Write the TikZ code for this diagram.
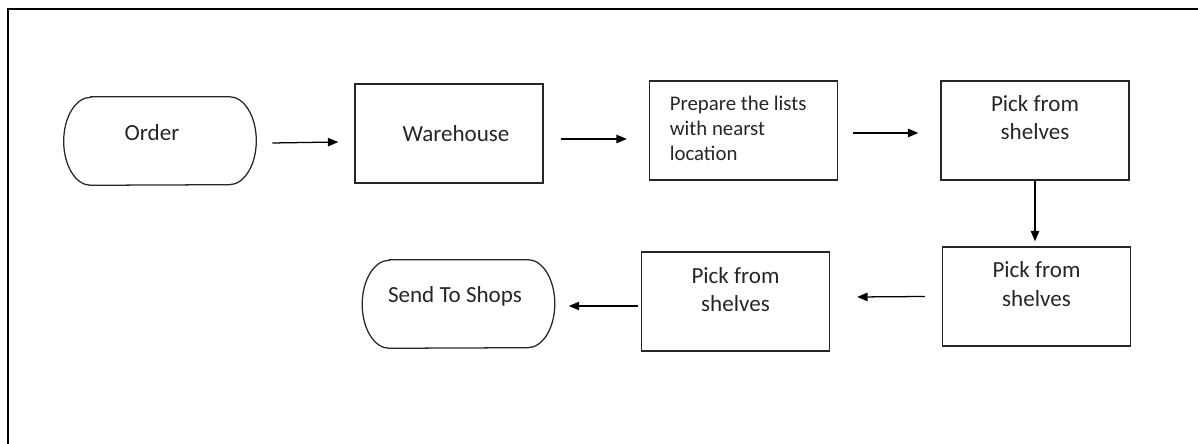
\documentclass[tikz,border=0pt]{standalone}
\usepackage{fontspec}
\setmainfont{Carlito}
\usetikzlibrary{arrows.meta,calc}

\begin{document}
\begin{tikzpicture}[
    x=0.025cm, y=0.025cm,
    >={Triangle[length=2.6mm,width=2.1mm]},
    stepbox/.style={draw=black!85, line width=0.9pt, minimum width=4.7cm, minimum height=2.475cm, inner sep=0pt},
    termbox/.style={minimum width=4.8cm, minimum height=2.2cm, inner sep=0pt},
    tag/.style={font=\fontsize{16.4}{20.3}\selectfont, text=black!85, align=center},
    smalltag/.style={font=\fontsize{14.8}{17.8}\selectfont, text=black!85, align=left},
    flow/.style={->, line width=0.9pt},
  ]

  % terminal shape: flat top and bottom, elliptic ends
  \def\termline#1{\draw[line width=0.9pt, draw=black!85]
    ($(#1.north west)+(27,0)$) -- ($(#1.north east)+(-27,0)$)
    arc[start angle=90, end angle=-90, x radius=27, y radius=44]
    -- ($(#1.south west)+(27,0)$)
    arc[start angle=270, end angle=90, x radius=27, y radius=44] -- cycle;}

  \useasboundingbox (0,0) rectangle (1198,444);

  % frame
  \draw[line width=1.4pt] (8,0) -- (8,435) -- (1198,435);

  % top row
  \node[termbox] (order) at (160,303) {};
  \termline{order}
  \node[tag] (order-t) at ($(order)+(-8,8)$) {Order};

  \node[stepbox] (warehouse) at (449,310.5) {};
  \node[tag] (warehouse-t) at ($(warehouse)+(7,0)$) {Warehouse};

  \node[stepbox] (prep) at (743.5,313.5) {};
  \node[smalltag, anchor=west] (prep-t) at ($(prep.west)+(16,2.5)$)
    {Prepare the lists\\with nearst\\location};

  \node[stepbox] (pick1) at (1035,313.5) {};
  \node[tag] (pick1-t) at ($(pick1)+(0,13)$) {Pick from\\shelves};

  % bottom row
  \node[stepbox] (pick2) at (1036.5,147.5) {};
  \node[tag] (pick2-t) at ($(pick2)+(0,12.5)$) {Pick from\\shelves};

  \node[stepbox] (pick3) at (735.5,142.5) {};
  \node[tag] (pick3-t) at ($(pick3)+(0,12)$) {Pick from\\shelves};

  \node[termbox] (send) at (458.5,140) {};
  \termline{send}
  \node[tag] (send-t) at ($(send)+(-3.5,8)$) {Send To Shops};

  % arrows
  \draw[flow] ($(order.east)+(16,-2)$) -- ($(warehouse.west)+(-16,-8.5)$);
  \draw[flow] ($(warehouse.east)+(17,-5.5)$) -- ($(prep.west)+(-22,-8.5)$);
  \draw[flow] ($(prep.east)+(15,-2.5)$) -- ($(pick1.west)+(-22,-2.5)$);
  \draw[flow] (pick1.south) -- ($(pick1.south|-pick2.north)+(0,5)$);
  \draw[flow] ($(pick2.west)+(-17,0)$) -- ($(pick3.east)+(27,4.5)$);
  \draw[flow] ($(pick3.west)+(-3,-4.5)$) -- ($(send.east)+(14,-2)$);

\end{tikzpicture}
\end{document}
